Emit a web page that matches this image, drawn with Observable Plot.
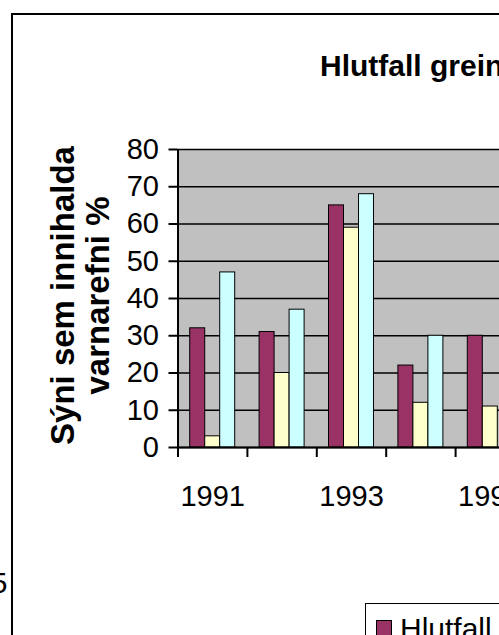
<!DOCTYPE html>
<html>
<head>
<meta charset="utf-8">
<script src="https://cdn.jsdelivr.net/npm/d3@7"></script>
<script src="https://cdn.jsdelivr.net/npm/@observablehq/plot@0.6"></script>
<style>
  html, body { margin: 0; padding: 0; overflow: hidden; background: white; }
  #wrap { position: relative; width: 499px; height: 635px; overflow: hidden; font-family: "Liberation Sans", Arial, sans-serif; }
  #chart { position: absolute; left: 0; top: 0; }
  #border { position: absolute; left: 11px; top: 13px; width: 700px; height: 800px; border: 2px solid #000; box-sizing: border-box; pointer-events: none; }
  #legend { position: absolute; left: 365px; top: 603px; width: 300px; height: 100px; border: 1.5px solid #000; background: #fff; box-sizing: border-box; }
  #legend .sw { position: absolute; left: 10px; top: 15.5px; width: 14px; height: 14px; border: 1px solid #000; }
  #legend .lb { position: absolute; left: 34px; top: 9.5px; font-size: 30px; line-height: 30px; white-space: nowrap; color: #000; }
</style>
</head>
<body>
<div id="wrap">
  <div id="chart"></div>
  <div id="border"></div>
  <div id="legend"></div>
</div>
<script>
// ---- data ----
const years = [1991, 1992, 1993, 1994, 1995];
const seriesNames = ["Hlutfall a", "Hlutfall b", "Hlutfall c"];
const seriesA = [32, 31, 65, 22, 30];
const seriesB = [3, 20, 59, 12, 11];
const seriesC = [47, 37, 68, 30, null];
const seriesColors = ["#993366", "#FFFFCC", "#CCFFFF"];
const yTicks = [0, 10, 20, 30, 40, 50, 60, 70, 80];
const xLabelYears = [1991, 1993, 1995];
const title = "Hlutfall greininga";
const yLabel1 = "Sýni sem innihalda";
const yLabel2 = "varnarefni %";

// ---- build table ----
const allSeries = [seriesA, seriesB, seriesC];
const rows = [];
years.forEach((yr, i) => {
  allSeries.forEach((s, j) => {
    if (s[i] != null) rows.push({year: yr, series: seriesNames[j], j, value: s[i]});
  });
});
const bw = 15 / 69.4;            // bar width as fraction of category
const pad = (1 - 3 * bw) / 2;    // gap on each side of group
const boundaries = years.map(y => y - 0.5).concat([years[years.length - 1] + 0.5]);

const font = "Liberation Sans, Arial, sans-serif";

const chart = Plot.plot({
  width: 540,
  height: 635,
  marginLeft: 177.5,
  marginRight: 15.5,
  marginTop: 149,
  marginBottom: 188,
  style: "max-width:none;background:transparent;overflow:visible;font-family:'Liberation Sans',Arial,sans-serif;color:#000;",
  x: {type: "linear", domain: [boundaries[0], boundaries[boundaries.length - 1]], axis: null, label: null},
  y: {domain: [0, 80], axis: null, label: null},
  color: {domain: seriesNames, range: seriesColors},
  marks: [
    Plot.frame({fill: "#C0C0C0", stroke: null}),
    Plot.ruleY(yTicks, {stroke: "#000", strokeWidth: 1.5}),
    Plot.rectY(rows, {
      x1: d => d.year - 0.5 + pad + d.j * bw,
      x2: d => d.year - 0.5 + pad + (d.j + 1) * bw,
      y1: 0,
      y2: "value",
      fill: "series",
      stroke: "#000",
      strokeWidth: 1
    }),
    Plot.ruleY([0], {stroke: "#000", strokeWidth: 2}),
    Plot.ruleX([boundaries[0]], {stroke: "#000", strokeWidth: 2}),
    Plot.axisY({ticks: yTicks, label: null, tickSize: 9, tickPadding: 10, fontSize: 29, fontFamily: font, strokeWidth: 2, stroke: "#000", fill: "#000"}),
    Plot.axisX({ticks: boundaries, label: null, tickSize: 10, tickFormat: () => "", strokeWidth: 2, stroke: "#000"}),
    Plot.axisX({ticks: xLabelYears, label: null, tickSize: 0, tickPadding: 38, fontSize: 29, fontFamily: font, tickFormat: d => String(d), fill: "#000"}),
    Plot.text([title], {frameAnchor: "top-left", textAnchor: "start", lineAnchor: "bottom", dx: 142, dy: -74, fontSize: 30, fontWeight: "bold", fontFamily: font, fill: "#000"}),
    Plot.text([yLabel1], {frameAnchor: "left", rotate: -90, textAnchor: "middle", lineAnchor: "bottom", dx: -104.5, dy: -3, fontSize: 33, fontWeight: "bold", fontFamily: font, fill: "#000"}),
    Plot.text([yLabel2], {frameAnchor: "left", rotate: -90, textAnchor: "middle", lineAnchor: "bottom", dx: -69.5, dy: -3, fontSize: 33, fontWeight: "bold", fontFamily: font, fill: "#000"}),
    Plot.text(["5"], {frameAnchor: "bottom-left", textAnchor: "end", lineAnchor: "bottom", dx: -170.5, dy: 145, fontSize: 30, fontFamily: font, fill: "#000"})
  ]
});
document.getElementById("chart").appendChild(chart);

// legend (only first entry visible in the cropped frame)
const legend = document.getElementById("legend");
seriesNames.slice(0, 1).forEach((name, i) => {
  const sw = document.createElement("div");
  sw.className = "sw";
  sw.style.background = seriesColors[i];
  legend.appendChild(sw);
  const lb = document.createElement("div");
  lb.className = "lb";
  lb.textContent = name;
  legend.appendChild(lb);
});
</script>
</body>
</html>
